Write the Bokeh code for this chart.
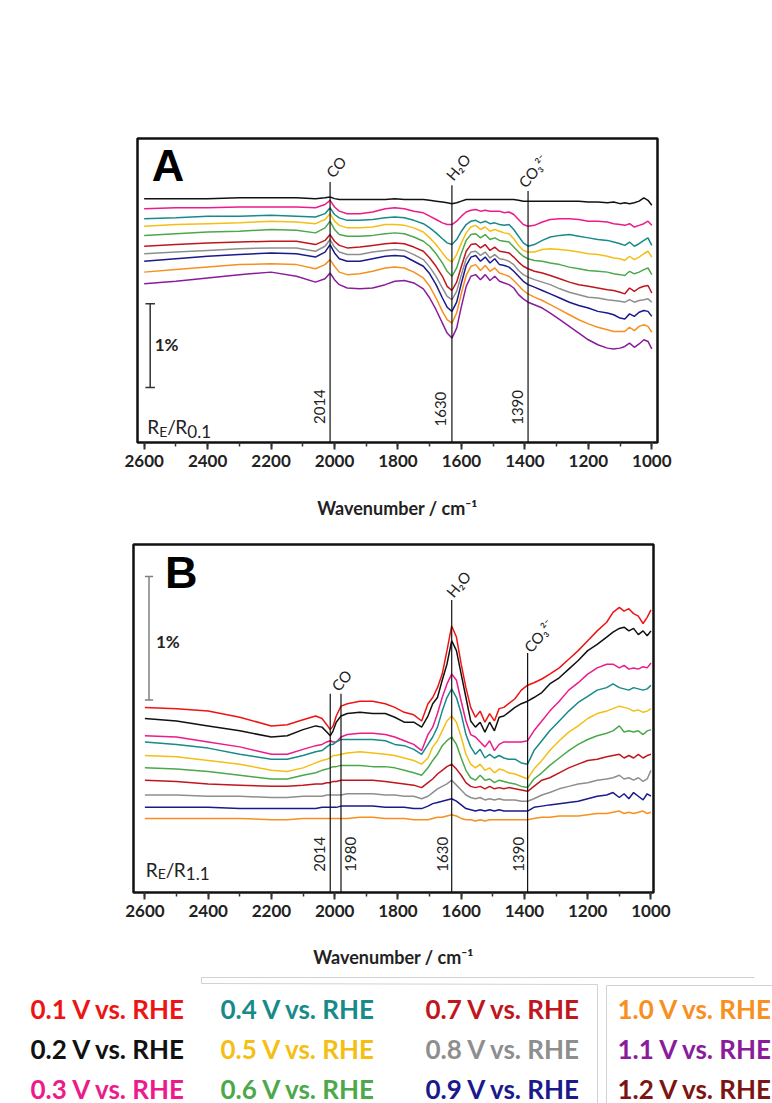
import math
from bokeh.plotting import figure
from bokeh.layouts import column
from bokeh.models import Range1d, SingleIntervalTicker, ColumnDataSource
from bokeh.embed import file_html
from bokeh.resources import INLINE
from bokeh.core.properties import value

FONT = "Lato"
INK = "#222222"

# ---------------- legend / series identity ----------------
potential_labels = ["0.1 V vs. RHE", "0.2 V vs. RHE", "0.3 V vs. RHE",
                    "0.4 V vs. RHE", "0.5 V vs. RHE", "0.6 V vs. RHE",
                    "0.7 V vs. RHE", "0.8 V vs. RHE", "0.9 V vs. RHE",
                    "1.0 V vs. RHE", "1.1 V vs. RHE", "1.2 V vs. RHE"]
potential_colors = ["#ee1414", "#111111", "#ec1a8a", "#178a8a",
                    "#f4bf14", "#4ca84a", "#c0161e", "#8e8e8e",
                    "#1a1a8c", "#f7901e", "#8a1c9c", "#7d1414"]

# ---------------- panel A (reference 0.1 V), dR/R in % ----------------
wn_a = [2600, 2500, 2400, 2300, 2200, 2120, 2060, 2030, 2014, 2000,
        1985, 1960, 1920, 1880, 1840, 1810, 1780, 1750, 1720, 1700,
        1680, 1660, 1645, 1630, 1615, 1600, 1585, 1570, 1555, 1540,
        1525, 1510, 1495, 1480, 1465, 1450, 1435, 1420, 1405, 1390,
        1370, 1345, 1320, 1290, 1260, 1230, 1200, 1170, 1140, 1120,
        1100, 1085, 1070, 1055, 1040, 1025, 1012, 1000]
a_02 = [2.92, 2.92, 2.92, 2.93, 2.93, 2.93, 2.92, 2.93, 2.94, 2.92,
        2.91, 2.91, 2.91, 2.91, 2.91, 2.92, 2.91, 2.91, 2.91, 2.90,
        2.89, 2.88, 2.87, 2.86, 2.87, 2.89, 2.91, 2.91, 2.91, 2.91,
        2.91, 2.91, 2.91, 2.91, 2.91, 2.91, 2.91, 2.90, 2.89, 2.89,
        2.89, 2.89, 2.89, 2.89, 2.89, 2.89, 2.88, 2.88, 2.87, 2.88,
        2.86, 2.87, 2.86, 2.87, 2.89, 2.93, 2.90, 2.84]
a_03 = [2.80, 2.81, 2.81, 2.82, 2.82, 2.82, 2.81, 2.85, 2.90, 2.82,
        2.77, 2.74, 2.74, 2.76, 2.80, 2.81, 2.80, 2.77, 2.75, 2.71,
        2.67, 2.63, 2.61, 2.61, 2.65, 2.71, 2.76, 2.78, 2.79, 2.77,
        2.78, 2.77, 2.77, 2.77, 2.75, 2.76, 2.73, 2.67, 2.61, 2.59,
        2.60, 2.64, 2.67, 2.68, 2.68, 2.67, 2.65, 2.65, 2.64, 2.62,
        2.61, 2.60, 2.62, 2.58, 2.60, 2.62, 2.65, 2.60]
a_04 = [2.68, 2.69, 2.71, 2.71, 2.72, 2.71, 2.70, 2.74, 2.81, 2.73,
        2.69, 2.66, 2.66, 2.67, 2.69, 2.70, 2.69, 2.66, 2.62, 2.57,
        2.51, 2.44, 2.39, 2.37, 2.43, 2.53, 2.61, 2.65, 2.66, 2.63,
        2.65, 2.62, 2.63, 2.61, 2.60, 2.61, 2.55, 2.47, 2.39, 2.35,
        2.37, 2.42, 2.46, 2.48, 2.49, 2.47, 2.45, 2.43, 2.42, 2.40,
        2.38, 2.36, 2.40, 2.35, 2.38, 2.42, 2.45, 2.36]
a_05 = [2.59, 2.61, 2.62, 2.63, 2.65, 2.64, 2.62, 2.67, 2.74, 2.65,
        2.60, 2.57, 2.57, 2.58, 2.61, 2.61, 2.60, 2.57, 2.52, 2.45,
        2.37, 2.27, 2.20, 2.16, 2.25, 2.39, 2.51, 2.58, 2.60, 2.55,
        2.58, 2.53, 2.55, 2.53, 2.51, 2.50, 2.44, 2.36, 2.30, 2.28,
        2.28, 2.31, 2.32, 2.31, 2.30, 2.28, 2.26, 2.25, 2.23, 2.21,
        2.20, 2.18, 2.23, 2.19, 2.22, 2.26, 2.29, 2.22]
a_06 = [2.48, 2.50, 2.52, 2.53, 2.55, 2.54, 2.51, 2.57, 2.65, 2.55,
        2.49, 2.47, 2.47, 2.48, 2.50, 2.51, 2.50, 2.46, 2.41, 2.35,
        2.26, 2.15, 2.05, 1.99, 2.09, 2.27, 2.42, 2.49, 2.50, 2.45,
        2.49, 2.43, 2.45, 2.42, 2.41, 2.40, 2.34, 2.28, 2.23, 2.20,
        2.18, 2.17, 2.15, 2.13, 2.10, 2.08, 2.06, 2.05, 2.04, 2.02,
        2.01, 2.00, 2.05, 2.02, 2.04, 2.07, 2.09, 2.01]
a_07 = [2.35, 2.37, 2.39, 2.40, 2.41, 2.41, 2.37, 2.42, 2.49, 2.41,
        2.36, 2.33, 2.34, 2.36, 2.38, 2.39, 2.38, 2.34, 2.29, 2.21,
        2.11, 1.99, 1.87, 1.82, 1.92, 2.11, 2.29, 2.37, 2.38, 2.33,
        2.37, 2.30, 2.34, 2.29, 2.28, 2.27, 2.22, 2.16, 2.11, 2.08,
        2.05, 2.03, 2.00, 1.96, 1.92, 1.89, 1.87, 1.85, 1.83, 1.82,
        1.80, 1.78, 1.85, 1.81, 1.85, 1.87, 1.88, 1.79]
a_08 = [2.26, 2.28, 2.30, 2.32, 2.33, 2.33, 2.29, 2.35, 2.43, 2.34,
        2.28, 2.25, 2.25, 2.28, 2.30, 2.31, 2.30, 2.25, 2.19, 2.10,
        1.99, 1.85, 1.75, 1.71, 1.81, 2.01, 2.20, 2.28, 2.29, 2.24,
        2.28, 2.21, 2.25, 2.20, 2.19, 2.17, 2.13, 2.06, 2.01, 1.98,
        1.95, 1.92, 1.89, 1.84, 1.80, 1.77, 1.74, 1.73, 1.71, 1.70,
        1.69, 1.68, 1.71, 1.68, 1.70, 1.71, 1.72, 1.68]
a_09 = [2.17, 2.20, 2.23, 2.25, 2.27, 2.26, 2.22, 2.28, 2.37, 2.27,
        2.20, 2.17, 2.17, 2.20, 2.23, 2.24, 2.23, 2.17, 2.11, 2.02,
        1.89, 1.73, 1.62, 1.57, 1.68, 1.91, 2.12, 2.22, 2.24, 2.17,
        2.22, 2.15, 2.20, 2.13, 2.12, 2.10, 2.05, 1.99, 1.93, 1.89,
        1.86, 1.82, 1.78, 1.73, 1.68, 1.64, 1.61, 1.57, 1.55, 1.53,
        1.49, 1.48, 1.54, 1.51, 1.56, 1.58, 1.57, 1.51]
a_10 = [2.04, 2.07, 2.10, 2.13, 2.14, 2.13, 2.08, 2.13, 2.19, 2.11,
        2.04, 2.01, 2.02, 2.05, 2.09, 2.10, 2.09, 2.04, 1.97, 1.87,
        1.73, 1.57, 1.47, 1.43, 1.55, 1.79, 2.00, 2.11, 2.13, 2.06,
        2.12, 2.05, 2.09, 2.03, 2.01, 1.99, 1.94, 1.88, 1.82, 1.78,
        1.74, 1.70, 1.65, 1.59, 1.53, 1.47, 1.42, 1.38, 1.35, 1.33,
        1.33, 1.33, 1.38, 1.34, 1.39, 1.41, 1.39, 1.32]
a_11 = [1.90, 1.93, 1.97, 2.01, 2.04, 1.99, 1.92, 1.96, 2.03, 1.95,
        1.89, 1.85, 1.84, 1.85, 1.89, 1.93, 1.94, 1.91, 1.84, 1.73,
        1.59, 1.43, 1.31, 1.25, 1.37, 1.63, 1.87, 1.99, 2.01, 1.95,
        2.01, 1.94, 1.99, 1.93, 1.91, 1.89, 1.85, 1.77, 1.72, 1.68,
        1.65, 1.61, 1.55, 1.47, 1.39, 1.31, 1.23, 1.17, 1.13, 1.12,
        1.13, 1.15, 1.19, 1.14, 1.18, 1.23, 1.21, 1.12]

# ---------------- panel B (reference 1.1 V), dR/R in % ----------------
wn_b = [2600, 2500, 2400, 2300, 2200, 2150, 2100, 2060, 2040, 2025,
        2014, 2005, 1995, 1980, 1960, 1920, 1880, 1840, 1810, 1780,
        1750, 1725, 1705, 1690, 1675, 1660, 1645, 1630, 1615, 1600,
        1585, 1570, 1555, 1540, 1525, 1510, 1495, 1480, 1465, 1450,
        1430, 1410, 1390, 1370, 1345, 1320, 1290, 1260, 1230, 1200,
        1170, 1140, 1120, 1100, 1085, 1070, 1055, 1040, 1025, 1012,
        1000]
b_01 = [1.50, 1.49, 1.47, 1.42, 1.35, 1.36, 1.40, 1.43, 1.41, 1.36,
        1.32, 1.35, 1.43, 1.51, 1.53, 1.55, 1.55, 1.53, 1.50, 1.46,
        1.44, 1.39, 1.53, 1.58, 1.66, 1.77, 1.96, 2.16, 2.07, 1.85,
        1.66, 1.50, 1.42, 1.47, 1.38, 1.45, 1.39, 1.49, 1.50, 1.53,
        1.57, 1.64, 1.68, 1.70, 1.73, 1.77, 1.82, 1.89, 1.96, 2.04,
        2.12, 2.19, 2.27, 2.31, 2.28, 2.30, 2.26, 2.24, 2.18, 2.23,
        2.29]
b_02 = [1.41, 1.39, 1.35, 1.31, 1.26, 1.27, 1.32, 1.35, 1.34, 1.30,
        1.27, 1.31, 1.38, 1.43, 1.45, 1.46, 1.45, 1.45, 1.42, 1.38,
        1.38, 1.34, 1.43, 1.53, 1.58, 1.72, 1.85, 2.04, 1.96, 1.77,
        1.58, 1.39, 1.34, 1.38, 1.30, 1.38, 1.31, 1.42, 1.43, 1.46,
        1.50, 1.53, 1.55, 1.58, 1.62, 1.69, 1.74, 1.81, 1.88, 1.96,
        2.01, 2.07, 2.11, 2.14, 2.15, 2.12, 2.14, 2.09, 2.12, 2.08,
        2.12]
b_03 = [1.27, 1.26, 1.22, 1.18, 1.12, 1.12, 1.16, 1.19, 1.20, 1.22,
        1.23, 1.22, 1.22, 1.26, 1.28, 1.29, 1.29, 1.28, 1.26, 1.23,
        1.20, 1.15, 1.28, 1.34, 1.45, 1.58, 1.69, 1.77, 1.72, 1.55,
        1.39, 1.28, 1.26, 1.22, 1.18, 1.23, 1.15, 1.20, 1.22, 1.22,
        1.22, 1.22, 1.23, 1.31, 1.39, 1.47, 1.55, 1.64, 1.70, 1.77,
        1.82, 1.85, 1.85, 1.82, 1.84, 1.81, 1.82, 1.81, 1.83, 1.82,
        1.86]
b_04 = [1.22, 1.20, 1.17, 1.12, 1.08, 1.08, 1.11, 1.14, 1.15, 1.18,
        1.20, 1.20, 1.22, 1.24, 1.24, 1.24, 1.24, 1.23, 1.20, 1.19,
        1.16, 1.12, 1.20, 1.26, 1.34, 1.47, 1.58, 1.65, 1.58, 1.45,
        1.28, 1.18, 1.12, 1.16, 1.09, 1.12, 1.09, 1.11, 1.09, 1.08,
        1.08, 1.05, 1.04, 1.15, 1.23, 1.31, 1.39, 1.47, 1.54, 1.59,
        1.64, 1.66, 1.69, 1.66, 1.65, 1.64, 1.66, 1.65, 1.64, 1.65,
        1.68]
b_05 = [1.11, 1.10, 1.07, 1.04, 0.99, 0.98, 1.01, 1.05, 1.07, 1.08,
        1.09, 1.11, 1.11, 1.12, 1.13, 1.14, 1.13, 1.12, 1.11, 1.09,
        1.07, 1.04, 1.09, 1.18, 1.23, 1.31, 1.39, 1.43, 1.38, 1.26,
        1.12, 1.04, 1.01, 1.04, 0.99, 1.01, 0.97, 1.00, 0.99, 0.97,
        0.96, 0.94, 0.92, 1.00, 1.07, 1.15, 1.23, 1.30, 1.35, 1.41,
        1.45, 1.47, 1.49, 1.51, 1.50, 1.49, 1.47, 1.48, 1.46, 1.47,
        1.49]
b_06 = [1.01, 1.00, 0.98, 0.95, 0.92, 0.92, 0.95, 0.97, 0.99, 1.00,
        1.01, 1.02, 1.02, 1.03, 1.03, 1.03, 1.02, 1.02, 1.01, 0.99,
        0.97, 0.95, 1.01, 1.07, 1.12, 1.19, 1.23, 1.26, 1.20, 1.09,
        0.99, 0.93, 0.91, 0.95, 0.91, 0.92, 0.89, 0.91, 0.90, 0.89,
        0.88, 0.86, 0.85, 0.92, 0.97, 1.03, 1.09, 1.15, 1.20, 1.24,
        1.27, 1.29, 1.31, 1.35, 1.30, 1.31, 1.30, 1.31, 1.28, 1.31,
        1.32]
b_07 = [0.91, 0.90, 0.88, 0.87, 0.86, 0.86, 0.87, 0.88, 0.88, 0.89,
        0.89, 0.90, 0.90, 0.91, 0.91, 0.91, 0.91, 0.90, 0.89, 0.88,
        0.87, 0.85, 0.89, 0.92, 0.96, 0.99, 1.02, 1.04, 1.00, 0.95,
        0.89, 0.86, 0.85, 0.86, 0.84, 0.86, 0.84, 0.85, 0.84, 0.85,
        0.84, 0.83, 0.82, 0.86, 0.91, 0.93, 0.97, 1.01, 1.04, 1.07,
        1.08, 1.10, 1.11, 1.12, 1.09, 1.11, 1.09, 1.12, 1.09, 1.11,
        1.12]
b_08 = [0.79, 0.79, 0.78, 0.78, 0.77, 0.77, 0.78, 0.78, 0.78, 0.79,
        0.79, 0.79, 0.79, 0.79, 0.80, 0.80, 0.80, 0.79, 0.79, 0.78,
        0.78, 0.76, 0.78, 0.81, 0.84, 0.86, 0.88, 0.91, 0.87, 0.83,
        0.79, 0.77, 0.76, 0.77, 0.75, 0.76, 0.75, 0.76, 0.75, 0.75,
        0.75, 0.74, 0.74, 0.76, 0.79, 0.81, 0.84, 0.86, 0.88, 0.89,
        0.91, 0.92, 0.93, 0.95, 0.92, 0.93, 0.91, 0.93, 0.90, 0.92,
        0.99]
b_09 = [0.69, 0.69, 0.69, 0.68, 0.68, 0.68, 0.68, 0.68, 0.69, 0.69,
        0.69, 0.69, 0.69, 0.70, 0.70, 0.70, 0.70, 0.69, 0.69, 0.69,
        0.68, 0.68, 0.70, 0.72, 0.73, 0.74, 0.75, 0.76, 0.74, 0.71,
        0.68, 0.67, 0.66, 0.67, 0.66, 0.67, 0.66, 0.67, 0.66, 0.66,
        0.66, 0.66, 0.66, 0.69, 0.70, 0.71, 0.72, 0.73, 0.74, 0.76,
        0.78, 0.79, 0.81, 0.77, 0.80, 0.76, 0.81, 0.78, 0.75, 0.80,
        0.78]
b_10 = [0.60, 0.60, 0.60, 0.60, 0.59, 0.59, 0.60, 0.60, 0.60, 0.60,
        0.60, 0.60, 0.60, 0.60, 0.60, 0.61, 0.61, 0.60, 0.60, 0.60,
        0.59, 0.59, 0.59, 0.60, 0.61, 0.61, 0.62, 0.63, 0.62, 0.60,
        0.59, 0.59, 0.58, 0.59, 0.58, 0.59, 0.59, 0.59, 0.59, 0.59,
        0.59, 0.59, 0.59, 0.60, 0.61, 0.61, 0.62, 0.62, 0.62, 0.63,
        0.64, 0.64, 0.65, 0.66, 0.64, 0.65, 0.64, 0.65, 0.66, 0.64,
        0.65]

# band markers (wavenumber, top of marker line in %)
bands_a = [2014, 1630, 1390]
bands_a_top = [3.12, 3.08, 3.01]
bands_b = [2014, 1980, 1630, 1390]
bands_b_top = [1.61, 1.61, 2.37, 1.94]


def make_panel(x_start, x_end, y_top, frame_h, left, right, top, bottom, title_gap):
    p = figure(frame_width=520, frame_height=frame_h,
               x_range=Range1d(x_start, x_end), y_range=Range1d(0, y_top),
               min_border_left=left, min_border_right=right,
               min_border_top=top, min_border_bottom=bottom,
               toolbar_location=None, output_backend="svg",
               y_axis_location=None, frame_align=False)
    p.grid.visible = False
    p.outline_line_color = "#111111"
    p.outline_line_width = 2.5
    p.outline_line_alpha = 1.0
    ax = p.xaxis[0]
    ax.ticker = SingleIntervalTicker(interval=200, num_minor_ticks=2)
    ax.axis_line_color = None
    ax.major_tick_in = 0
    ax.major_tick_out = 7
    ax.minor_tick_in = 0
    ax.minor_tick_out = 4
    ax.major_tick_line_width = 2
    ax.minor_tick_line_width = 1.5
    ax.major_tick_line_color = "#333333"
    ax.minor_tick_line_color = "#333333"
    ax.major_label_text_font = FONT
    ax.major_label_text_font_size = "17px"
    ax.major_label_text_font_style = "bold"
    ax.major_label_text_color = INK
    ax.major_label_standoff = 5
    ax.axis_label = "Wavenumber / cm\u207b\u00b9"
    ax.axis_label_text_font = FONT
    ax.axis_label_text_font_size = "18px"
    ax.axis_label_text_font_style = "bold"
    ax.axis_label_text_color = INK
    ax.axis_label_standoff = title_gap
    return p


def txt(p, x, y, s, size, angle=0.0, bold=False, align="center",
        baseline="middle", color=INK, font=FONT, x_offset=0):
    p.text(x=[x], y=[y], text=[s], angle=angle, x_offset=x_offset,
           text_font=value(font), text_font_size=size,
           text_font_style="bold" if bold else "normal",
           text_align=align, text_baseline=baseline, text_color=color)


ROT = math.radians(50)

# ---------------- panel A ----------------
pa = make_panel(2621, 982, 3.64, 304, 137, 115, 138, 88, 27)
for k, ys in enumerate([a_02, a_03, a_04, a_05, a_06, a_07, a_08, a_09, a_10, a_11]):
    pa.line(wn_a, ys, line_color=potential_colors[k + 1], line_width=1.5)
pa.segment(x0=bands_a, y0=[0] * len(bands_a), x1=bands_a, y1=bands_a_top,
           line_color="#111111", line_width=1.2)
for b, xlab, ylab in zip(bands_a, [2048, 1666, 1423], [0.43, 0.40, 0.42]):
    txt(pa, xlab, ylab, str(b), "15px", angle=math.pi / 2)
txt(pa, 1996, 3.30, "CO", "15px", angle=ROT)
txt(pa, 1611, 3.30, "H\u2082O", "15px", angle=ROT)
txt(pa, 1374, 3.25, "CO\u2083\u00b2\u207b", "15px", angle=ROT)
txt(pa, 2525, 3.32, "A", "45px", bold=True, font="Liberation Sans", color="#000000")
# scale bar 1 %
pa.segment(x0=[2581, 2596, 2596], y0=[0.66, 0.66, 1.66], x1=[2581, 2566, 2566],
           y1=[1.66, 0.66, 1.66], line_color="#333333", line_width=1.5)
txt(pa, 2567, 1.17, "1%", "17px", bold=True, align="left")
# R_E / R_0.1
txt(pa, 2590, 0.19, "R", "19px", align="left", baseline="alphabetic")
txt(pa, 2590, 0.13, "E", "14px", align="left", baseline="alphabetic", x_offset=12)
txt(pa, 2590, 0.19, "/", "19px", align="left", baseline="alphabetic", x_offset=20)
txt(pa, 2590, 0.19, "R", "19px", align="left", baseline="alphabetic", x_offset=28)
txt(pa, 2590, 0.13, "0.1", "17px", align="left", baseline="alphabetic", x_offset=40)

# ---------------- panel B ----------------
pb = make_panel(2636, 992, 2.82, 348, 133, 119, 14, 83, 26)
for k, ys in enumerate([b_01, b_02, b_03, b_04, b_05, b_06, b_07, b_08, b_09, b_10]):
    pb.line(wn_b, ys, line_color=potential_colors[k], line_width=1.5)
pb.segment(x0=bands_b, y0=[0] * len(bands_b), x1=bands_b, y1=bands_b_top,
           line_color="#111111", line_width=1.2)
for b, xlab in zip(bands_b, [2048, 1949, 1659, 1419]):
    txt(pb, xlab, 0.31, str(b), "15px", angle=math.pi / 2)
txt(pb, 1979, 1.72, "CO", "15px", angle=ROT)
txt(pb, 1609, 2.50, "H\u2082O", "15px", angle=ROT)
txt(pb, 1355, 2.08, "CO\u2083\u00b2\u207b", "15px", angle=ROT)
txt(pb, 2485, 2.59, "B", "45px", bold=True, font="Liberation Sans", color="#000000")
pb.segment(x0=[2587, 2600, 2600], y0=[1.56, 1.56, 2.56], x1=[2587, 2574, 2574],
           y1=[2.56, 1.56, 2.56], line_color="#808080", line_width=1.5)
txt(pb, 2565, 2.03, "1%", "17px", bold=True, align="left")
txt(pb, 2597, 0.19, "R", "19px", align="left", baseline="alphabetic")
txt(pb, 2597, 0.15, "E", "14px", align="left", baseline="alphabetic", x_offset=12)
txt(pb, 2597, 0.19, "/", "19px", align="left", baseline="alphabetic", x_offset=20)
txt(pb, 2597, 0.19, "R", "19px", align="left", baseline="alphabetic", x_offset=28)
txt(pb, 2597, 0.15, "1.1", "17px", align="left", baseline="alphabetic", x_offset=40)

# ---------------- legend strip ----------------
leg = figure(width=772, height=128, x_range=Range1d(0, 772), y_range=Range1d(1103, 975),
             min_border=0, toolbar_location=None, output_backend="svg",
             x_axis_location=None, y_axis_location=None, frame_align=False)
leg.grid.visible = False
leg.outline_line_color = None
col_x = [30, 220, 425, 617]
row_y = [1008, 1048, 1088]
src = ColumnDataSource(dict(
    x=[col_x[i // 3] for i in range(len(potential_labels))],
    y=[row_y[i % 3] for i in range(len(potential_labels))],
    t=potential_labels, c=potential_colors))
leg.text(x="x", y="y", text="t", text_color="c", source=src,
         text_font=value(FONT), text_font_size="26px", text_font_style="bold",
         text_align="left", text_baseline="middle")
leg.segment(x0=[201, 201, 201, 597, 606, 606], y0=[977, 977, 983, 984, 985, 985],
            x1=[754, 201, 597, 597, 606, 772], y1=[977, 983, 984, 1103, 1103, 985],
            line_color="#d2d2d2", line_width=1)

layout = column(pa, pb, leg, spacing=0)
open("out.html", "w").write(file_html(layout, INLINE))
